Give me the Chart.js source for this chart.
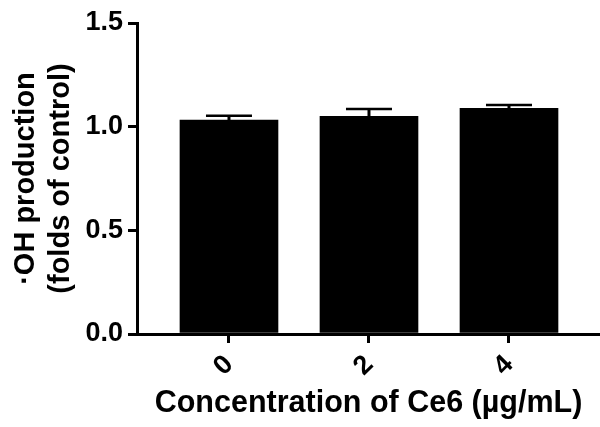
<!DOCTYPE html>
<html>
<head>
<meta charset="utf-8">
<script src="https://cdn.jsdelivr.net/npm/chart.js@4/dist/chart.umd.min.js"></script>
<style>
  html, body { margin: 0; padding: 0; background: #fff; }
  #wrap { width: 600px; height: 427px; position: relative; }
</style>
</head>
<body>
<div id="wrap"><canvas id="ohChart" width="600" height="427"></canvas></div>
<script>
// values
const doseLabels = ["0", "2", "4"]
const doseIndex = [0, 1, 2]
const ohMean = [1.032, 1.050, 1.089]
const ohErr = [0.021, 0.035, 0.016]
const yTicks = [0, 0.5, 1.0, 1.5]

const fontFamily = "'Liberation Sans', Arial, Helvetica, sans-serif"

// upper error bars with caps, drawn through the chart scales
const errorBars = {
  id: "errorBars",
  afterDatasetsDraw(chart) {
    const ctx = chart.ctx
    const xs = chart.scales.x
    const ys = chart.scales.y
    ctx.save()
    ctx.strokeStyle = "#000"
    ohMean.forEach((m, i) => {
      const x = xs.getPixelForValue(doseIndex[i])
      const yMean = ys.getPixelForValue(m)
      const yTop = ys.getPixelForValue(m + ohErr[i])
      ctx.lineWidth = 3
      ctx.beginPath()
      ctx.moveTo(x, yMean)
      ctx.lineTo(x, yTop)
      ctx.stroke()
      ctx.lineWidth = 2.5
      ctx.beginPath()
      ctx.moveTo(x - 23, yTop)
      ctx.lineTo(x + 23, yTop)
      ctx.stroke()
    })
    ctx.restore()
  }
}

new Chart(document.getElementById("ohChart"), {
  type: "bar",
  data: {
    datasets: [{
      data: doseIndex.map((x, i) => ({ x: x, y: ohMean[i] })),
      backgroundColor: "#000",
      borderWidth: 0,
      barThickness: 98
    }]
  },
  options: {
    responsive: false,
    animation: false,
    devicePixelRatio: 1,
    layout: { padding: { top: 23, left: 0, right: 0, bottom: 0 } },
    plugins: { legend: { display: false }, tooltip: { enabled: false } },
    scales: {
      x: {
        type: "linear",
        min: -0.657,
        max: 2.65,
        offset: false,
        afterBuildTicks: (s) => { s.ticks = doseIndex.map((v) => ({ value: v })) },
        afterFit: (s) => { s.height = 93 },
        grid: { display: true, offset: false, drawOnChartArea: false, drawTicks: true, tickLength: 9, color: "#000", lineWidth: 3 },
        border: { display: true, color: "#000", width: 3 },
        ticks: {
          minRotation: 45,
          maxRotation: 45,
          padding: 6,
          color: "#000",
          font: { family: fontFamily, size: 27, weight: "bold" },
          callback: (v) => doseLabels[doseIndex.indexOf(v)]
        },
        title: {
          display: true,
          text: "Concentration of Ce6 (µg/mL)",
          color: "#000",
          font: { family: fontFamily, size: 30.5, weight: "bold" },
          padding: { top: 0, bottom: 5 }
        }
      },
      y: {
        min: 0,
        max: 1.5,
        afterBuildTicks: (s) => { s.ticks = yTicks.map((v) => ({ value: v })) },
        afterFit: (s) => { s.width = 137 },
        grid: { display: true, drawOnChartArea: false, drawTicks: true, tickLength: 9, color: "#000", lineWidth: 3 },
        border: { display: true, color: "#000", width: 3 },
        ticks: {
          padding: 5,
          color: "#000",
          font: { family: fontFamily, size: 27, weight: "bold" },
          callback: (v) => v.toFixed(1)
        },
        title: {
          display: true,
          text: ["·OH production", "(folds of control)"],
          color: "#000",
          font: { family: fontFamily, size: 29, weight: "bold" },
          padding: { top: 9, bottom: 0 }
        }
      }
    }
  },
  plugins: [errorBars]
})
</script>
</body>
</html>
